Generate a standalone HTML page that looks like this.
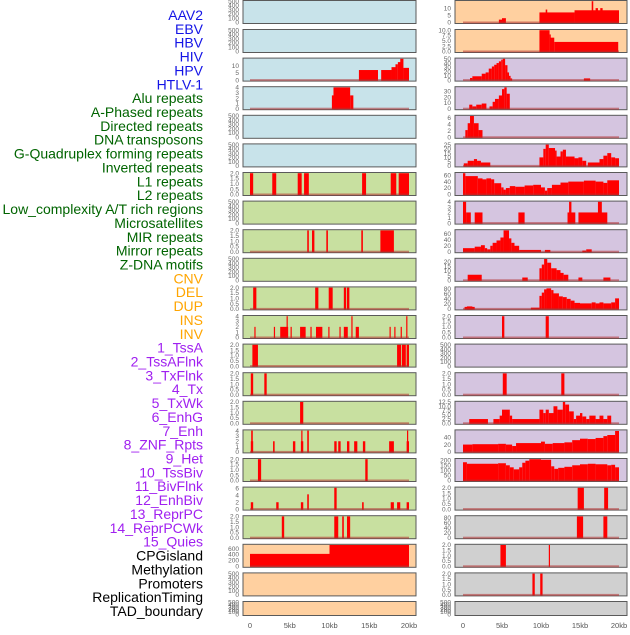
<!DOCTYPE html>
<html><head><meta charset="utf-8"><style>
body{margin:0;background:#fff;width:630px;height:630px;overflow:hidden}
svg{font-family:"Liberation Sans",sans-serif}
</style></head><body>
<svg id="chart" width="630" height="630" viewBox="0 0 630 630" xmlns="http://www.w3.org/2000/svg">
<g id="labels"></g>
<g id="panels"></g>
<g id="xaxis"></g>
</svg>
<script>
const trackLabels=["AAV2","EBV","HBV","HIV","HPV","HTLV-1","Alu repeats","A-Phased repeats","Directed repeats","DNA transposons","G-Quadruplex forming repeats","Inverted repeats","L1 repeats","L2 repeats","Low_complexity A/T rich regions","Microsatellites","MIR repeats","Mirror repeats","Z-DNA motifs","CNV","DEL","DUP","INS","INV","1_TssA","2_TssAFlnk","3_TxFlnk","4_Tx","5_TxWk","6_EnhG","7_Enh","8_ZNF_Rpts","9_Het","10_TssBiv","11_BivFlnk","12_EnhBiv","13_ReprPC","14_ReprPCWk","15_Quies","CPGisland","Methylation","Promoters","ReplicationTiming","TAD_boundary"];
const labelGroups=[0,0,0,0,0,0,1,1,1,1,1,1,1,1,1,1,1,1,1,2,2,2,2,2,3,3,3,3,3,3,3,3,3,3,3,3,3,3,3,4,4,4,4,4];
const xTickLabels=["0","5kb","10kb","15kb","20kb"];
const xTickValues=[0,5,10,15,20];
const T500=["0","100","200","300","400","500"], T2=["0.0","0.5","1.0","1.5","2.0"];
const leftTicks=[T500,T500,["0","5","10"],["0","1","2","3","4"],T500,T500,T2,T500,T2,T500,T2,["0","1","2","3","4"],T2,T2,T2,["0","1","2","3","4"],T2,["0","2","4","6"],T2,["0","200","400","600"],T500,T500];
const leftMax=[500,500,14.8,4,500,500,2,500,2,500,2,4,2,2,2,4,2,6.2,2,720,500,500];
const leftBg=[0,0,0,0,0,0,1,1,1,1,1,1,1,1,1,1,1,1,1,2,2,2];
const leftBars=[[],[],
[[13.7,16.1,7],[16.5,17.8,7],[17.8,18.3,9],[18.3,18.6,11],[18.6,19.1,12.5],[18.9,19.3,14.8],[19.3,20,8.5]],
[[10.3,11.1,2.5],[10.5,12.6,4],[12.6,13.0,2.5]],
[],[],
[[0,0.4,2],[2.8,3.3,2],[6.0,6.5,2],[6.8,7.4,2],[14.1,14.6,2],[17.7,18.4,2],[18.7,20,2]],
[],
[[7.2,7.4,2],[7.8,8.1,2],[9.6,9.8,2],[14.0,14.2,2],[16.4,18.1,2]],
[],
[[0.4,0.8,2],[8.2,8.6,2],[9.9,10.4,2],[11.8,12.1,2],[12.2,12.5,2]],
[[0.55,0.7,2],[3.0,3.15,2],[3.8,4.8,2],[4.6,4.75,4],[5.1,5.25,2],[6.3,7.0,2],[7.6,7.75,2],[8.3,9.1,2],[9.85,10.0,2],[11.25,11.4,2],[11.8,12.3,2],[12.75,12.9,4],[13.3,13.7,2],[17.55,17.7,2],[18.15,18.3,2],[18.95,19.1,2],[19.65,19.8,4]],
[[0.3,1.0,2],[18.5,19.0,2],[19.1,19.6,2],[19.7,20,2]],
[[0.1,0.4,2],[1.8,2.1,2]],
[[6.3,6.7,2]],
[[0.1,0.4,2],[0.15,0.35,4],[2.9,3.1,2],[5.4,5.7,2],[6.4,6.7,2],[6.45,6.6,4],[7.2,7.4,4],[10.6,10.9,2],[11.1,11.4,2],[12.2,12.5,2],[13.1,13.5,2],[14.2,14.5,2],[17.5,18.1,2],[19.7,20,2],[19.75,19.9,4]],
[[1.0,1.4,2],[14.5,14.8,2]],
[[0.1,0.4,2],[3.3,3.6,2],[6.4,6.7,2],[7.2,7.4,4.3],[10.6,10.9,6.2],[14.1,14.3,2],[17.7,18.1,2],[18.5,18.9,2],[19.7,20,2]],
[[4.0,4.3,2],[10.6,11.1,2],[11.6,11.8,2],[12.2,12.6,2]],
[[0,10,420],[10,20,720]],
[],[]];
const rightTicks=[["0","5","10"],["0.0","2.5","5.0","7.5","10.0"],["0","10","20","30","40","50"],["0","10","20","30"],["0","2","4","6"],["0","5","10","15","20","25"],["0","20","40","60"],["0","1","2","3","4"],["0","20","40","60"],["0","5","10","15","20"],["0","20","40","60","80"],T2,T500,T2,["0.0","2.5","5.0","7.5","10.0","12.5"],["0","20","40"],["0","50","100","150","200"],T2,["0","20","40","60","80"],T2,T2,T500];
const rightMax=[14.8,10,50,37,6.5,25,66,4,72,23,85,2,500,2,12.5,58,210,2,85,2,2,500];
const rightBg=[2,2,3,3,3,3,3,3,3,3,3,3,3,3,3,3,3,4,4,4,4,4];
const rightBars=[
[[4.6,5.0,2],[5.0,5.5,3],[9.8,14.3,7],[10.6,10.8,9],[14.3,20,8.5],[16.5,16.7,14.8],[17.0,17.3,10],[17.6,17.9,10]],
[[9.8,11.1,10],[11.1,11.2,8],[11.2,11.7,6.5],[11.7,19.9,4.5]],
[[0.9,1.2,5],[1.2,2.4,9],[2.4,2.9,15],[2.9,3.3,18],[3.3,3.7,27],[3.7,4.0,32],[4.0,4.3,36],[4.3,4.6,40],[4.6,4.9,44],[4.9,5.1,48],[5.1,5.4,50],[5.4,5.7,35],[5.7,5.9,18],[5.9,6.1,10],[6.1,6.3,4],[15.5,16.3,4]],
[[0.8,1.2,7],[1.2,1.7,4],[1.7,2.4,7],[2.4,3.0,9],[3.4,3.8,4],[3.8,4.1,12],[4.1,4.6,17],[4.6,5.0,23],[5.0,5.3,34],[5.3,5.6,37],[5.6,6.0,26]],
[[0.3,0.6,2.2],[0.6,0.9,4.3],[0.9,1.4,6.5],[1.4,2.0,4.3],[2.0,2.5,2.2]],
[[0.1,0.6,3],[0.6,1.4,6],[1.4,1.8,8],[1.8,2.3,6],[2.3,3.5,4],[9.8,10.3,10],[10.3,10.6,20],[10.6,11.0,25],[11.0,11.8,21],[11.8,12.0,18],[12.0,12.5,11],[12.5,12.8,17],[12.8,13.2,19],[13.2,14.3,11],[14.3,14.8,9],[14.8,15.3,10],[15.3,15.8,6],[16.0,17.5,4],[17.5,18.0,8],[18.0,18.5,12],[18.5,19.0,15],[19.0,19.5,10],[19.5,20,9]],
[[0,0.3,66],[0.3,1.9,57],[1.9,2.5,50],[2.5,3.0,47],[3.0,3.6,50],[3.6,4.0,47],[4.0,4.9,35],[4.9,5.2,22],[5.2,5.5,15],[5.5,6.0,20],[6.0,6.7,26],[6.7,7.9,24],[7.9,9.0,28],[9.0,10.0,30],[10.0,10.5,22],[10.5,10.8,12],[10.8,11.4,20],[11.4,12.5,30],[12.5,13.5,37],[13.5,15.5,40],[15.5,17,43],[17,18,40],[18,18.5,36],[18.5,20,44]],
[[0,0.4,4],[0.4,1.0,2],[1.5,2.5,2],[7.1,7.9,2],[13.4,14.4,2],[13.6,13.9,4],[14.8,18.5,2],[17.3,17.8,4]],
[[0,1.5,12],[1.5,2.3,17],[2.3,2.8,22],[2.8,3.1,12],[3.1,3.5,8],[3.5,3.8,20],[3.8,4.3,30],[4.3,4.8,38],[4.8,5.2,48],[5.2,5.9,72],[5.9,6.2,45],[6.2,6.6,30],[6.6,7.2,20],[7.2,10,6],[10.5,11.2,6],[15.3,15.8,4],[15.8,16.5,8]],
[[0.6,2.4,6],[7.6,8.3,3],[9.8,10.1,13],[10.1,10.4,17],[10.4,10.8,23],[10.8,11.3,19],[11.3,12.0,13],[12.0,12.5,11],[12.5,12.9,8],[12.9,13.5,6],[14.8,15.3,3],[18.0,18.9,3]],
[[0.2,1.5,8],[0.5,1.2,10],[8.7,9.8,5],[9.8,10.1,52],[10.1,10.4,65],[10.4,10.7,78],[10.7,11.3,82],[11.3,11.6,75],[11.6,12.3,62],[12.3,12.8,50],[12.8,13.3,47],[13.3,13.8,40],[13.8,14.3,33],[14.3,15.0,24],[15.0,16.5,22],[16.5,17,26],[17,17.5,22],[17.5,18,26],[18,19,22],[19,19.5,26],[19.5,20,42]],
[[5.0,5.3,2],[10.6,11.0,2]],
[],
[[5.1,5.6,2],[12.6,13.0,2]],
[[0.8,3.2,2.5],[3.9,4.7,2.5],[4.7,5.0,4.5],[5.0,6.0,8],[6.0,6.3,4.5],[6.3,9.8,2.5],[9.8,10.3,8],[10.3,10.6,6],[10.6,11.0,8],[11.0,11.6,6],[11.6,12.1,10],[12.1,12.8,8],[12.8,13.1,12.5],[13.1,13.6,11],[13.6,14.2,7],[14.2,14.5,2.5],[14.5,15.0,4.5],[15.0,15.3,6],[15.3,15.8,4],[15.8,16.2,2.5],[16.2,17.0,4.5],[17.0,17.5,2.5],[17.5,18.0,4.5],[18.0,18.5,2.5],[18.5,19.0,4.5]],
[[0,1.2,20],[1.2,4.5,21],[4.5,5.5,22],[5.5,6.3,20],[6.3,6.8,16],[6.8,10.0,24],[10.0,10.5,28],[10.5,11.5,22],[11.5,13,24],[13,14,26],[14,15,32],[15,16,36],[16,17,35],[17,18,38],[18,18.5,43],[18.5,19.5,46],[19.5,20,57]],
[[0,0.5,180],[0.5,4.5,165],[4.5,5.5,170],[5.5,6,150],[6,6.5,130],[6.5,7.2,110],[7.2,7.6,130],[7.6,8,175],[8,8.5,195],[8.5,10,210],[10,11.3,205],[11.3,11.7,140],[11.7,12.2,115],[12.2,13,125],[13,14,135],[14,15,150],[15,16,160],[16,17,165],[17,18.5,160],[18.5,19,150],[19,19.5,155],[19.5,20,130]],
[[14.7,15.5,2],[18.1,18.6,2]],
[[14.6,15.4,85],[18.0,18.5,85]],
[[4.8,5.5,2],[11.0,11.15,2]],
[[8.9,9.2,2],[9.9,10.2,2]],
[]];

const NS="http://www.w3.org/2000/svg";
const bgColors=["#c8e3ea","#c8e0a0","#ffd0a0","#d5c5e0","#d0d0d0"];
const labelColors=["#1414e6","#006400","#ffa500","#a020f0","#000000"];
function mk(tag,attrs,parent){const e=document.createElementNS(NS,tag);for(const k in attrs)e.setAttribute(k,attrs[k]);parent.appendChild(e);return e;}
const cols=[{x0:243,x1:416,kx0:250,kx1:409,tx:239,ticks:leftTicks,max:leftMax,bg:leftBg,bars:leftBars,name:'left'},
            {x0:455,x1:627,kx0:463,kx1:619,tx:451,ticks:rightTicks,max:rightMax,bg:rightBg,bars:rightBars,name:'right'}];
function rowTop(i){return i===0?0:29+(i-1)*28.6;}
function rowH(i){return i===21?15:24;}

const lg=document.getElementById('labels');
trackLabels.forEach((t,i)=>{
  const e=mk('text',{x:203,y:20+i*13.86,'text-anchor':'end','font-size':'14',fill:labelColors[labelGroups[i]]},lg);
  e.textContent=t;
  
  
});

const pg=document.getElementById('panels');
cols.forEach(c=>{
  const xs=k=>c.kx0+(c.kx1-c.kx0)*k/20;
  for(let i=0;i<22;i++){
    const top=rowTop(i),h=rowH(i),bot=top+h;
    const g=mk('g',{},pg);
    
    
    mk('rect',{x:c.x0,y:top+0.5,width:c.x1-c.x0,height:h-1,fill:bgColors[c.bg[i]],stroke:'#5a5a5a','stroke-width':1},g);
    const vT=top+1.2,v0=bot-1.5,ymax=c.max[i];
    const ys=v=>v0-(v0-vT)*v/ymax;
    // ticks
    c.ticks[i].forEach(tl=>{
      const v=parseFloat(tl);
      const t=mk('text',{x:c.tx,y:ys(v)+2.2,'text-anchor':'end','font-size':'6.5',fill:'#666'},g);
      t.textContent=tl;
      
      
    });
    if(i===21)continue;
    c.bars[i].forEach(b=>{
      const y=ys(Math.min(b[2],ymax));
      const r=mk('rect',{x:xs(b[0]),y:y,width:Math.max(1.2,xs(b[1])-xs(b[0])),height:v0-y+0.5,fill:'#ff0000'},g);
      
      
    });
    if(c.bars[i].length){
      const bl=mk('rect',{x:xs(0),y:v0-1,width:xs(20)-xs(0),height:2,fill:'#b03030',opacity:0.55},g);
      
      
    }
  }
  const ag=document.getElementById('xaxis');
  xTickValues.forEach((v,j)=>{
    const t=mk('text',{x:xs(v),y:628,'text-anchor':'middle','font-size':'7.5',fill:'#555'},ag);
    t.textContent=xTickLabels[j];
    
    
  });
});
</script>
</body></html>
